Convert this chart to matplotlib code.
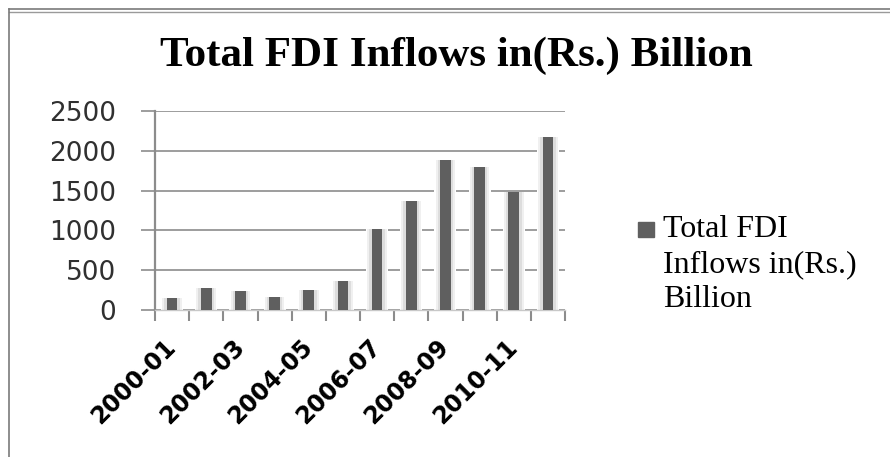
import matplotlib
matplotlib.use("Agg")
import matplotlib.pyplot as plt
import numpy as np
from matplotlib.lines import Line2D
from matplotlib.patches import Rectangle

# data
years = ["2000-01", "2001-02", "2002-03", "2003-04", "2004-05", "2005-06",
         "2006-07", "2007-08", "2008-09", "2009-10", "2010-11", "2011-12"]
fdi = [151, 272, 234, 168, 247, 364, 1013, 1369, 1884, 1792, 1486, 2173]
yticks = [0, 500, 1000, 1500, 2000, 2500]
series_name = "Total FDI\nInflows in(Rs.)\nBillion"
chart_title = "Total FDI Inflows in(Rs.) Billion"

bar_col = "#5f5f5f"
grid_col = "#8c8c8c"

W, H = 890, 457
fig = plt.figure(figsize=(W / 100, H / 100), dpi=100)
ax = fig.add_axes([155 / W, 147 / H, 410 / W, 199 / H])

x = np.arange(len(years))

# soft glow behind each bar, as in the original
ax.bar(x, fdi, width=0.64, color="white", zorder=2)
ax.bar(x, fdi, width=0.58, color="#c4c4c4", alpha=0.25, zorder=2.2)
ax.bar(x, fdi, width=0.46, color="#a8a8a8", alpha=0.25, zorder=2.4)
ax.bar(x, fdi, width=0.31, color=bar_col, zorder=3)

ax.set_xlim(-0.5, len(years) - 0.5)
ax.set_ylim(0, 2500)
ax.set_yticks(yticks)
ax.set_yticklabels([str(v) for v in yticks], fontsize=19, color="#303030",
                   family="DejaVu Sans")
ax.yaxis.grid(True, color=grid_col, linewidth=1.2, zorder=1)
ax.set_axisbelow(True)
ax.tick_params(axis="y", length=10, width=1.2, color=grid_col, pad=18)

# ticks on the category boundaries, labels every other category
ax.set_xticks(np.arange(-0.5, len(years), 1.0))
ax.set_xticklabels([])
ax.tick_params(axis="x", which="major", length=8, width=1.5, color=grid_col)
ax.set_xticks(x[::2], minor=True)
ax.set_xticklabels(years[::2], minor=True, rotation=45, ha="right",
                   va="center", rotation_mode="anchor", fontsize=17,
                   fontweight="bold", family="DejaVu Sans")
ax.tick_params(axis="x", which="minor", length=0, pad=24)

for side in ["top", "right"]:
    ax.spines[side].set_visible(False)
ax.spines["left"].set_color(grid_col)
ax.spines["left"].set_linewidth(1.6)
ax.spines["bottom"].set_color("#c8c8c8")
ax.spines["bottom"].set_linewidth(1.0)

# legend drawn by hand so the key sits on the first text line
fig.add_artist(Rectangle((638 / W, 1 - 237 / H), 16 / W, 15 / H,
                         transform=fig.transFigure, color=bar_col))
fig.text(663 / W, 1 - 215 / H, series_name, ha="left", va="top",
         fontsize=23, family="Liberation Serif", linespacing=1.27)

fig.text(456 / W, 1 - 56 / H, chart_title,
         ha="center", va="center", fontsize=31, fontweight="bold",
         family="Liberation Serif")

# outer frame lines (top double line, left line)
fig.add_artist(Line2D([9 / W, 1], [1 - 9 / H, 1 - 9 / H],
                      transform=fig.transFigure, color="#7a7a7a", lw=1.2))
fig.add_artist(Line2D([9 / W, 1], [1 - 12 / H, 1 - 12 / H],
                      transform=fig.transFigure, color="#9a9a9a", lw=1.0))
fig.add_artist(Line2D([9 / W, 9 / W], [0, 1 - 9 / H],
                      transform=fig.transFigure, color="#7a7a7a", lw=1.2))

fig.savefig("out.png", dpi=100)
